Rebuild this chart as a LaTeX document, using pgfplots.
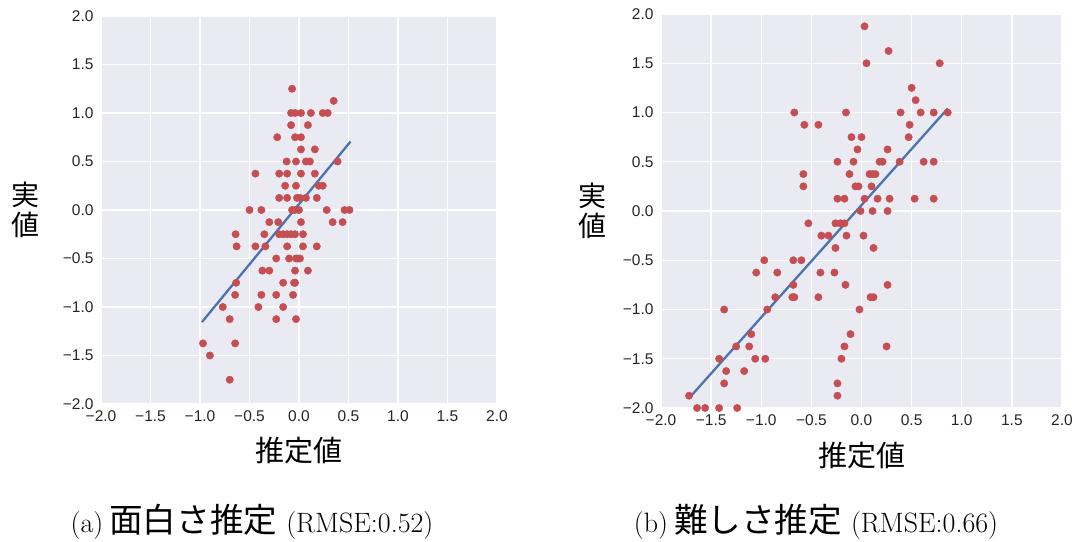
\documentclass[border=0pt]{standalone}
\usepackage{fontspec}
\usepackage{pgfplots}
\pgfplotsset{compat=1.18}
\newfontfamily\cjk{Noto Sans CJK JP}
\newfontfamily\cjkcap[Scale=1.2]{Noto Sans CJK JP}
\newfontfamily\sans{Liberation Sans}
\definecolor{sbred}{HTML}{C44E52}
\definecolor{sbblue}{HTML}{4C72B0}
\definecolor{sbbg}{HTML}{EAEAF2}

\pgfplotsset{
  sbstyle/.style={
    scale only axis,
    xmin=-2, xmax=2, ymin=-2, ymax=2,
    axis background/.style={fill=sbbg},
    axis line style={draw=none},
    major tick style={draw=none},
    grid=major,
    major grid style={white, line width=1.3pt},
    xtick={-2,-1.5,-1,-0.5,0,0.5,1,1.5,2},
    ytick={-2,-1.5,-1,-0.5,0,0.5,1,1.5,2},
    xticklabels={−2.0,−1.5,−1.0,−0.5,0.0,0.5,1.0,1.5,2.0},
    yticklabels={−2.0,−1.5,−1.0,−0.5,0.0,0.5,1.0,1.5,2.0},
    tick label style={font=\sans\fontsize{15.5}{16}\selectfont, text=black!85},
    xticklabel style={yshift=-3pt},
    yticklabel style={xshift=-4pt},
    xlabel={推定値},
    ylabel={実\\値},
    xlabel style={font=\cjk\fontsize{29}{31}\selectfont, at={(axis description cs:0.5,-0.12)}, anchor=center},
    ylabel style={font=\cjk\fontsize{28}{30}\selectfont, rotate=-90, align=center, anchor=center},
  },
  dots/.style={only marks, mark=*, mark size=3.7pt, color=sbred},
  fit/.style={no marks, color=sbblue, line width=2.3pt},
}

\begin{document}
\begin{tikzpicture}
\useasboundingbox (0,0) rectangle (1076pt,541pt);

% (a) 面白さ
\begin{axis}[sbstyle, at={(101pt,137pt)}, anchor=south west,
    width=396pt, height=388pt,
    ylabel style={at={(axis description cs:-0.19,0.5)}}]
\addplot[dots] coordinates {
  (-0.07,1.25) (0.35,1.125)
  (-0.08,1.0) (-0.04,1.0) (0.02,1.0) (0.12,1.0) (0.24,1.0) (0.29,1.0)
  (-0.08,0.875) (0.09,0.875)
  (-0.22,0.75) (-0.04,0.75) (0.02,0.75)
  (0.02,0.625) (0.16,0.625)
  (-0.125,0.5) (-0.03,0.5) (0.07,0.5) (0.11,0.5) (0.39,0.5)
  (-0.44,0.375) (-0.2,0.375) (-0.12,0.375) (0.02,0.375) (0.16,0.375)
  (-0.14,0.25) (-0.03,0.25) (0.2,0.25) (0.24,0.25)
  (-0.2,0.125) (-0.12,0.125) (-0.02,0.125) (0.01,0.125) (0.07,0.125) (0.18,0.125)
  (-0.5,0) (-0.38,0) (-0.07,0) (-0.04,0) (0.0,0) (0.28,0) (0.46,0) (0.51,0)
  (-0.3,-0.125) (-0.21,-0.125) (0.02,-0.125) (0.34,-0.125) (0.44,-0.125)
  (-0.64,-0.25) (-0.35,-0.25) (-0.2,-0.25) (-0.16,-0.25) (-0.12,-0.25) (-0.08,-0.25) (-0.04,-0.25) (0.04,-0.25)
  (-0.63,-0.375) (-0.44,-0.375) (-0.34,-0.375) (-0.12,-0.375) (0.04,-0.375) (0.18,-0.375)
  (-0.23,-0.5) (-0.1,-0.5) (-0.03,-0.5) (-0.01,-0.5) (0.01,-0.5)
  (-0.37,-0.625) (-0.3,-0.625) (-0.04,-0.625) (0.09,-0.625)
  (-0.635,-0.75) (-0.16,-0.75) (-0.05,-0.75) (-0.04,-0.75)
  (-0.645,-0.875) (-0.38,-0.875) (-0.23,-0.875) (-0.06,-0.875)
  (-0.77,-1.0) (-0.41,-1.0) (-0.16,-1.0)
  (-0.7,-1.125) (-0.23,-1.125) (-0.03,-1.125)
  (-0.97,-1.375) (-0.645,-1.375)
  (-0.9,-1.5)
  (-0.7,-1.75)
};
\addplot[fit] coordinates {(-0.98,-1.155) (0.52,0.705)};
\end{axis}

% (b) 難しさ
\begin{axis}[sbstyle, at={(661pt,133pt)}, anchor=south west,
    width=401pt, height=394pt,
    ylabel style={at={(axis description cs:-0.172,0.5)}}]
\addplot[dots] coordinates {
  (0.03,1.875) (0.27,1.625) (0.05,1.5) (0.78,1.5)
  (0.5,1.25) (0.54,1.125)
  (-0.67,1.0) (-0.155,1.0) (0.39,1.0) (0.59,1.0) (0.72,1.0) (0.86,1.0)
  (-0.57,0.875) (-0.43,0.875) (0.48,0.875)
  (-0.1,0.75) (0.0,0.75) (0.47,0.75)
  (-0.04,0.625) (0.26,0.625)
  (-0.24,0.5) (-0.08,0.5) (0.18,0.5) (0.21,0.5) (0.38,0.5) (0.62,0.5) (0.72,0.5)
  (-0.58,0.375) (-0.12,0.375) (0.08,0.375) (0.11,0.375) (0.14,0.375)
  (-0.58,0.25) (-0.06,0.25) (-0.03,0.25) (0.1,0.25)
  (-0.24,0.125) (-0.17,0.125) (0.03,0.125) (0.16,0.125) (0.28,0.125) (0.53,0.125) (0.72,0.125)
  (-0.01,0) (0.11,0) (0.26,0)
  (-0.53,-0.125) (-0.26,-0.125) (-0.21,-0.125) (-0.17,-0.125)
  (-0.4,-0.25) (-0.33,-0.25) (-0.15,-0.25) (0.02,-0.25)
  (-0.26,-0.375) (0.12,-0.375)
  (-0.97,-0.5) (-0.68,-0.5) (-0.6,-0.5)
  (-1.05,-0.625) (-0.84,-0.625) (-0.41,-0.625) (-0.27,-0.625)
  (-0.68,-0.75) (-0.16,-0.75) (0.26,-0.75)
  (-0.86,-0.875) (-0.69,-0.875) (-0.67,-0.875) (-0.43,-0.875) (0.09,-0.875) (0.12,-0.875)
  (-1.37,-1.0) (-0.94,-1.0) (-0.02,-1.0)
  (-1.1,-1.25) (-0.11,-1.25)
  (-1.25,-1.375) (-1.12,-1.375) (-0.17,-1.375) (0.25,-1.375)
  (-1.42,-1.5) (-1.06,-1.5) (-0.96,-1.5) (-0.2,-1.5)
  (-1.35,-1.625) (-1.17,-1.625)
  (-1.37,-1.75) (-0.24,-1.75)
  (-1.72,-1.875) (-0.24,-1.875)
  (-1.64,-2.0) (-1.56,-2.0) (-1.42,-2.0) (-1.24,-2.0)
};
\addplot[fit] coordinates {(-1.72,-1.90) (0.86,1.04)};
\end{axis}

\node[font=\fontsize{28}{30}\selectfont, anchor=center] at (252pt,19pt)
  {(a)\hspace{6pt}{\cjkcap 面白さ推定}\hspace{9pt}(RMSE:0.52)};
\node[font=\fontsize{28}{30}\selectfont, anchor=center] at (816pt,19pt)
  {(b)\hspace{6pt}{\cjkcap 難しさ推定}\hspace{9pt}(RMSE:0.66)};
\end{tikzpicture}
\end{document}
